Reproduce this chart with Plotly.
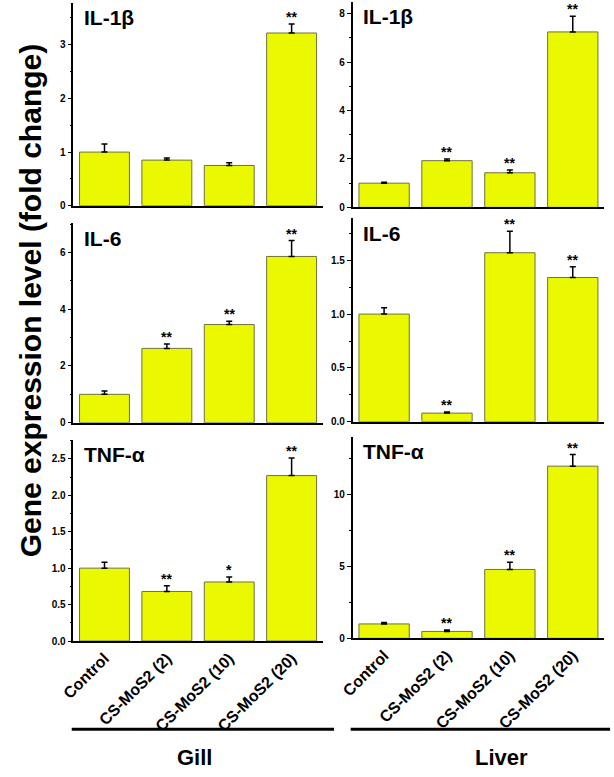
import plotly.graph_objects as go

categories = ["Control", "CS-MoS2 (2)", "CS-MoS2 (10)", "CS-MoS2 (20)"]

gill_il1b = [1.0, 0.85, 0.75, 3.22]
gill_il1b_err = [0.15, 0.04, 0.05, 0.17]
gill_il1b_sig = ["", "", "", "**"]

liver_il1b = [1.0, 1.93, 1.43, 7.25]
liver_il1b_err = [0.04, 0.07, 0.12, 0.65]
liver_il1b_sig = ["", "**", "**", "**"]

gill_il6 = [1.0, 2.62, 3.46, 5.86]
gill_il6_err = [0.12, 0.15, 0.12, 0.56]
gill_il6_sig = ["", "**", "**", "**"]

liver_il6 = [1.0, 0.08, 1.57, 1.34]
liver_il6_err = [0.06, 0.01, 0.2, 0.1]
liver_il6_sig = ["", "**", "**", "**"]

gill_tnf = [1.0, 0.68, 0.81, 2.27]
gill_tnf_err = [0.08, 0.08, 0.07, 0.24]
gill_tnf_sig = ["", "**", "*", "**"]

liver_tnf = [1.0, 0.48, 4.78, 11.95]
liver_tnf_err = [0.1, 0.09, 0.5, 0.8]
liver_tnf_sig = ["", "**", "**", "**"]

gene_labels = ["IL-1β", "IL-1β", "IL-6", "IL-6", "TNF-α", "TNF-α"]
tissue_labels = ["Gill", "Liver"]
y_title = "Gene expression level (fold change)"

W, H = 614, 777
FONT = "Liberation Sans, Arial, sans-serif"
BAR = "#eaf900"
EDGE = "#707040"

def px_x(p):
    return p / W

def px_y(p):
    return 1 - p / H

# panel definitions: (values, err, sig, xdom px, ydom px, yrange, dtick, minor, fmt)
panels = [
    (gill_il1b, gill_il1b_err, gill_il1b_sig, (61.6, 316.5), (3, 207.3), 3.78, 1, 0.5, ""),
    (liver_il1b, liver_il1b_err, liver_il1b_sig, (347, 604), (1.7, 209), 8.5, 2, 1, ""),
    (gill_il6, gill_il6_err, gill_il6_sig, (61.6, 316.5), (225, 426), 7.03, 2, 1, ""),
    (liver_il6, liver_il6_err, liver_il6_sig, (347, 604), (220, 425), 1.89, 0.5, 0.25, ".1f"),
    (gill_tnf, gill_tnf_err, gill_tnf_sig, (61.6, 316.5), (443.3, 646), 2.76, 0.5, 0.25, ".1f"),
    (liver_tnf, liver_tnf_err, liver_tnf_sig, (347, 604), (440, 643.3), 14.0, 5, 2.5, ""),
]

fig = go.Figure()
annotations = []
layout = {}
for i, (vals, err, sig, xd, yd, ymax, dt, mn, fmt) in enumerate(panels):
    n = "" if i == 0 else str(i + 1)
    xa, ya = "x" + n, "y" + n
    fig.add_trace(go.Bar(
        x=categories, y=vals, xaxis=xa, yaxis=ya, width=0.8,
        marker=dict(color=BAR, line=dict(color=EDGE, width=1)),
        error_y=dict(type="data", array=err, arrayminus=[0] * len(err), symmetric=False,
                     color="black", thickness=1.5, width=3),
        showlegend=False, hoverinfo="skip",
    ))
    bottom = i >= 4
    layout["xaxis" + n] = dict(
        domain=[px_x(xd[0]), px_x(xd[1])], anchor=ya,
        type="category", categoryorder="array", categoryarray=categories,
        range=[-0.5, 3.5], showline=True, linecolor="black", linewidth=1.5,
        ticks="", showticklabels=bottom, tickangle=-45,
        tickfont=dict(family=FONT, size=16, color="black", weight="bold"),
        showgrid=False, zeroline=False, fixedrange=True,
    )
    layout["yaxis" + n] = dict(
        domain=[px_y(yd[1]), px_y(yd[0])], anchor=xa,
        range=[0, ymax], dtick=dt, tick0=0, tickformat=fmt,
        showline=True, linecolor="black", linewidth=1.5,
        ticks="outside", ticklen=4, tickwidth=1, tickcolor="black",
        minor=dict(dtick=mn, ticks="outside", ticklen=2, tickwidth=1, tickcolor="black"),
        tickfont=dict(family=FONT, size=10, color="black", weight="bold"),
        showgrid=False, zeroline=False, fixedrange=True,
    )
    # gene label
    annotations.append(dict(
        text="<b>%s</b>" % gene_labels[i], xref="paper", yref="paper",
        x=px_x(xd[0] + 9), y=px_y(yd[0] + 15), xanchor="left", yanchor="middle",
        showarrow=False, font=dict(family=FONT, size=21, color="black"),
    ))
    for c, v, e, s in zip(categories, vals, err, sig):
        if s:
            annotations.append(dict(
                text="<b>%s</b>" % s, x=c, y=v + e, xref=xa, yref=ya,
                xanchor="center", yanchor="bottom", yshift=-3, showarrow=False,
                font=dict(family=FONT, size=14, color="black"),
            ))

# group underlines and tissue labels
shapes = []
for (x0, x1), cx, lab in [((60, 328), 185, tissue_labels[0]), ((345, 610), 499, tissue_labels[1])]:
    shapes.append(dict(type="line", xref="paper", yref="paper",
                       x0=px_x(x0), x1=px_x(x1), y0=px_y(735), y1=px_y(735),
                       line=dict(color="black", width=3)))
    annotations.append(dict(text="<b>%s</b>" % lab, xref="paper", yref="paper",
                            x=px_x(cx), y=px_y(763), xanchor="center", yanchor="middle",
                            showarrow=False, font=dict(family=FONT, size=22, color="black")))

annotations.append(dict(text="<b>%s</b>" % y_title, xref="paper", yref="paper",
                        x=px_x(18), y=px_y(303), xanchor="center", yanchor="middle",
                        textangle=-90, showarrow=False,
                        font=dict(family=FONT, size=30, color="black")))

fig.update_layout(
    width=W, height=H, margin=dict(l=0, r=0, t=0, b=0),
    paper_bgcolor="white", plot_bgcolor="white",
    annotations=annotations, shapes=shapes, bargap=0.2,
    **layout,
)

fig.write_html("out.html", config={"displayModeBar": False})
